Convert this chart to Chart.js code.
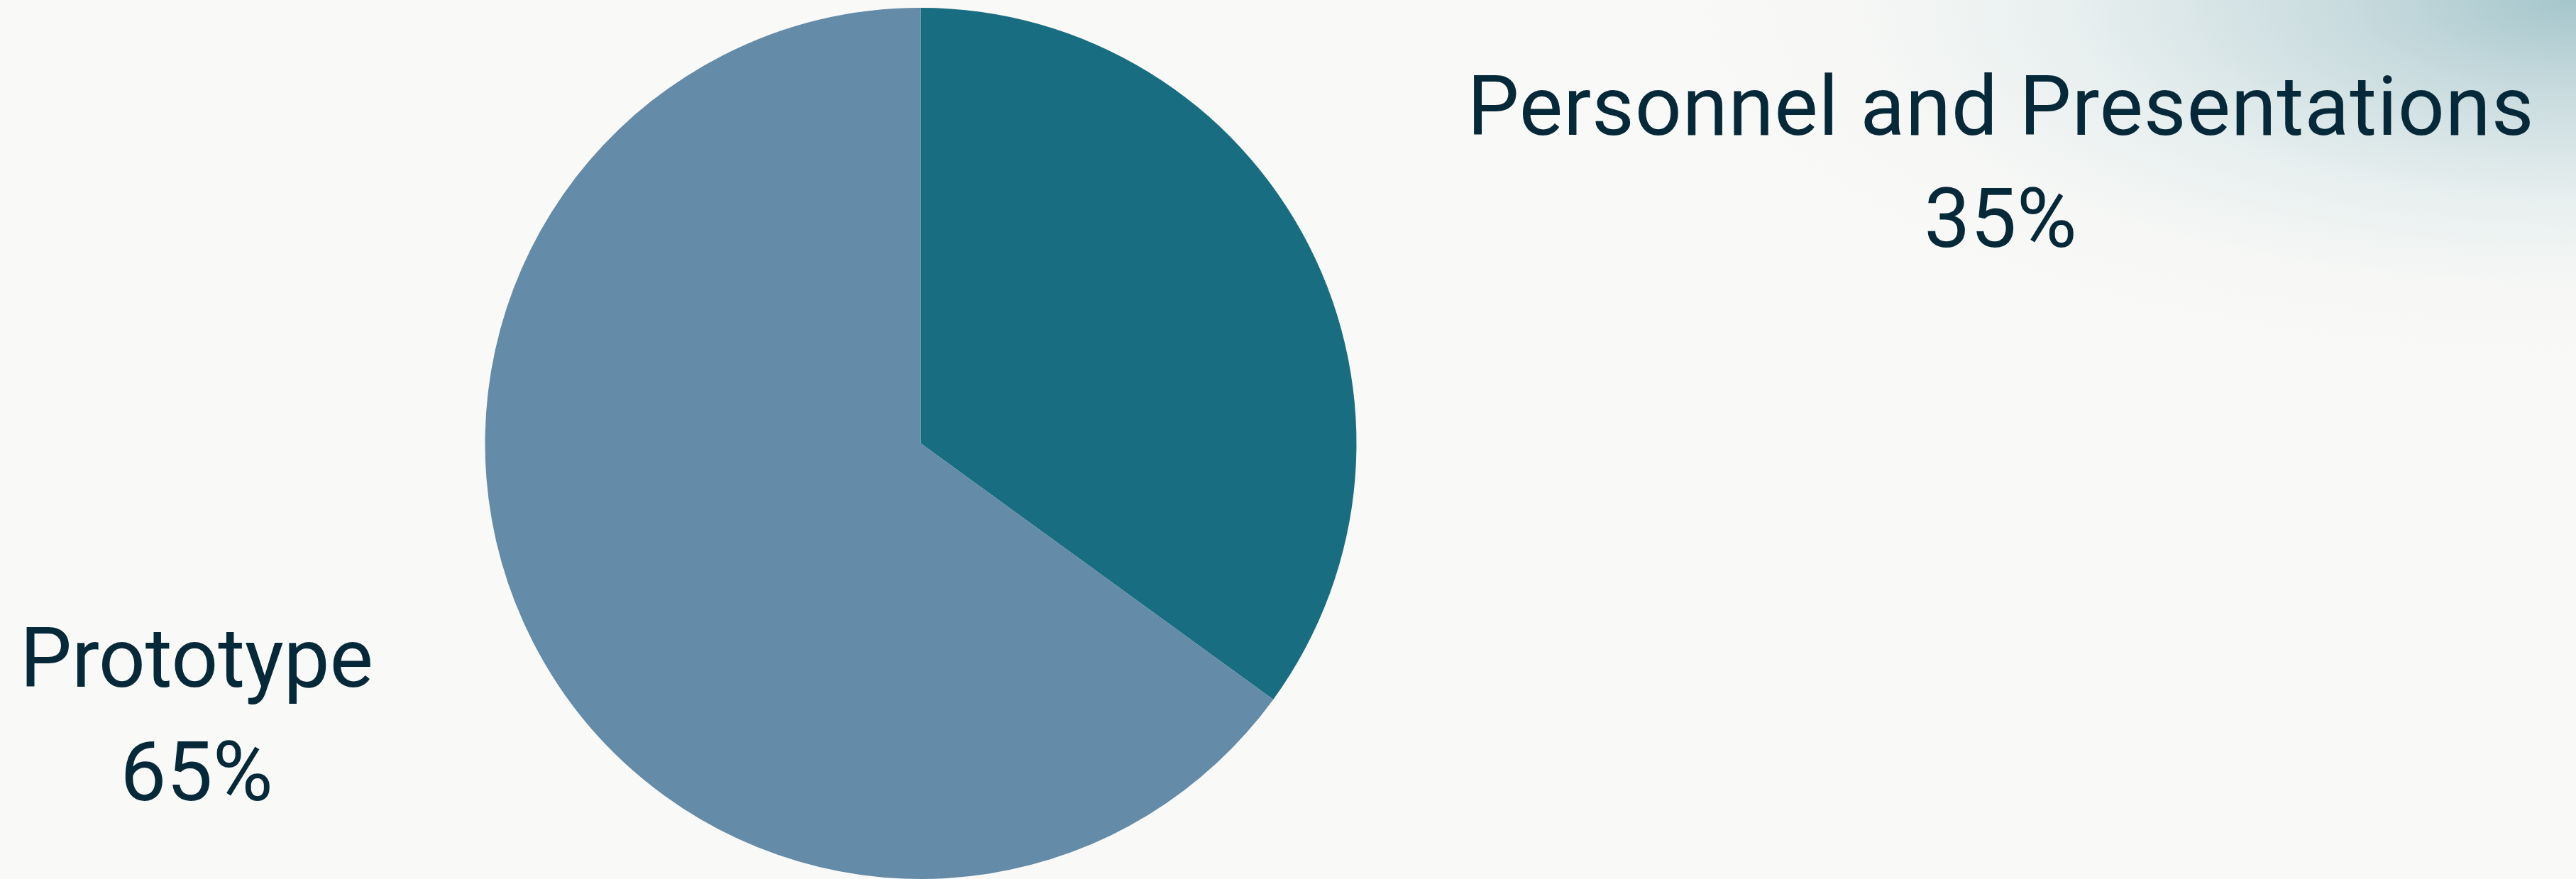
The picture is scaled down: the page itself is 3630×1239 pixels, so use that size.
<!DOCTYPE html>
<html>
<head>
<meta charset="utf-8">
<script src="https://cdn.jsdelivr.net/npm/chart.js@4.4.1/dist/chart.umd.min.js"></script>
<style>
  html, body {
    margin: 0;
    padding: 0;
    width: 3630px;
    height: 1239px;
    overflow: hidden;
    background-color: #f9f9f7;
    background-image: radial-gradient(1300px 520px at 100% 0%, rgba(165, 198, 204, 1) 0%, rgba(192, 214, 218, 0.85) 25%, rgba(218, 231, 233, 0.55) 55%, rgba(238, 242, 241, 0.2) 80%, rgba(249, 249, 247, 0) 100%);
  }
  #wrap {
    position: absolute;
    left: 0;
    top: 0;
    width: 3630px;
    height: 1239px;
  }
</style>
</head>
<body>
<div id="wrap"><canvas id="budgetPie"></canvas></div>
<script>
const categories = ["Personnel and Presentations", "Prototype"];
const shares = [35, 65];
const sliceColors = ["#186e80", "#648ba7"];

const textColor = "#06293a";

// labels sit outside the pie, one block per slice
const outsideLabels = {
  id: "outsideLabels",
  afterDatasetsDraw(chart, args, opts) {
    const ctx = chart.ctx;
    const values = chart.data.datasets[0].data;
    ctx.save();
    ctx.fillStyle = opts.color;
    ctx.font = opts.fontSize + "px " + opts.fontFamily;
    ctx.textBaseline = "alphabetic";
    ctx.textAlign = "left";

    chart.data.labels.forEach(function (label, i) {
      const spot = opts.spots[i];
      const pct = values[i] + "%";

      // fit name to the width measured on the reference
      ctx.letterSpacing = "0px";
      const raw = ctx.measureText(label).width;
      const ls = (spot.width - raw) / (label.length - 1);
      ctx.letterSpacing = ls + "px";
      ctx.fillText(label, spot.x - spot.width / 2, spot.nameY);

      ctx.letterSpacing = "0px";
      const pw = ctx.measureText(pct).width;
      ctx.fillText(pct, spot.x - pw / 2, spot.pctY);
    });
    ctx.restore();
  }
};

const ctx = document.getElementById("budgetPie").getContext("2d");

new Chart(ctx, {
  type: "pie",
  data: {
    labels: categories,
    datasets: [
      {
        data: shares,
        backgroundColor: sliceColors,
        borderWidth: 0,
        hoverOffset: 0
      }
    ]
  },
  options: {
    responsive: true,
    maintainAspectRatio: false,
    animation: false,
    layout: {
      padding: { left: 683, right: 1718, top: 11, bottom: 0 }
    },
    plugins: {
      legend: { display: false },
      tooltip: { enabled: false },
      outsideLabels: {
        color: textColor,
        fontFamily: "Roboto, 'Noto Sans', sans-serif",
        fontSize: 116,
        spots: [
          { x: 2819, width: 1503, nameY: 190, pctY: 348 },
          { x: 277, width: 498, nameY: 968, pctY: 1128 }
        ]
      }
    }
  },
  plugins: [outsideLabels]
});
</script>
</body>
</html>
